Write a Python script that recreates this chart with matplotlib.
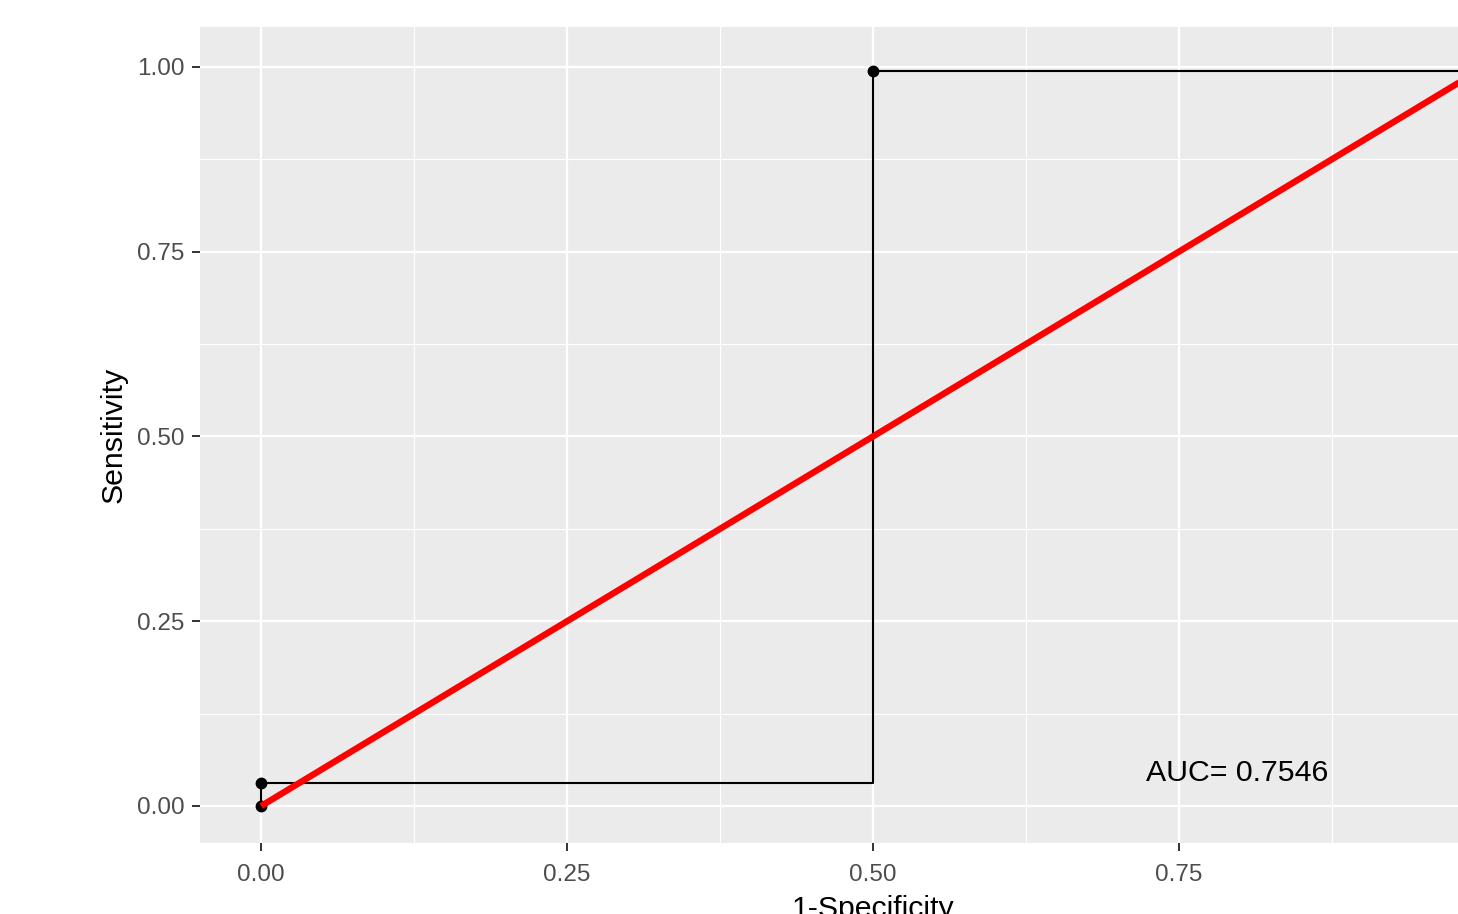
import matplotlib
matplotlib.use("Agg")
import matplotlib.pyplot as plt
import matplotlib.ticker as ticker

# ROC curve data
fpr = [0.0, 0.0, 0.5, 0.5, 1.0]
tpr = [0.0, 0.031, 0.031, 0.995, 0.995]
pt_fpr = [0.0, 0.0, 0.5, 1.0]
pt_tpr = [0.0, 0.031, 0.995, 0.995]
diag = [0.0, 1.0]
auc_label = "AUC= 0.7546"
auc_pos = (0.798, 0.045)
xticks = [0.0, 0.25, 0.5, 0.75]   # 1.00 falls outside the cropped picture
yticks = [0.0, 0.25, 0.5, 0.75, 1.0]

plt.rcParams['font.family'] = ['Liberation Sans', 'DejaVu Sans']

W, H = 1458, 914
fig = plt.figure(figsize=(W / 100, H / 100), dpi=100)
fig.patch.set_facecolor('white')

# panel extends past the right edge of the picture (cropped)
left, right_px, top_px, bottom_px = 200, 1546, 27, 843
ax = fig.add_axes([left / W, (H - bottom_px) / H,
                   (right_px - left) / W, (bottom_px - top_px) / H])
ax.set_facecolor('#EBEBEB')
for s in ax.spines.values():
    s.set_visible(False)

ax.set_xlim(-0.05, 1.05)
ax.set_ylim(-0.0501, 1.054)

ax.xaxis.set_major_locator(ticker.FixedLocator(xticks))
ax.yaxis.set_major_locator(ticker.FixedLocator(yticks))
ax.xaxis.set_minor_locator(ticker.FixedLocator([0.125, 0.375, 0.625, 0.875]))
ax.yaxis.set_minor_locator(ticker.FixedLocator([0.125, 0.375, 0.625, 0.875]))
ax.xaxis.set_major_formatter(ticker.FormatStrFormatter('%.2f'))
ax.yaxis.set_major_formatter(ticker.FormatStrFormatter('%.2f'))

ax.grid(which='major', color='white', linewidth=1.6, zorder=0)
ax.grid(which='minor', color='white', linewidth=0.8, zorder=0)
ax.set_axisbelow(True)
# grid line at x = 1.00 (tick itself is off-picture)
ax.axvline(1.0, color='white', linewidth=1.6, zorder=0)

ax.tick_params(which='major', length=6, width=1.4, color='#333333',
               labelcolor='#4D4D4D', labelsize=17.5)
ax.tick_params(axis='x', which='major', pad=9)
ax.tick_params(axis='y', which='major', pad=5)
ax.tick_params(which='minor', length=0)

# ROC step curve and points
ax.plot(fpr, tpr, color='black', linewidth=1.5, zorder=3)
ax.plot(pt_fpr, pt_tpr, 'o', color='black', markersize=7.5, zorder=4,
        clip_on=False)

# diagonal reference
ax.plot(diag, diag, color='#FF0000', linewidth=4.6, zorder=5,
        solid_capstyle='butt')

ax.text(auc_pos[0], auc_pos[1], auc_label, fontsize=21.8, color='black',
        ha='center', va='center', zorder=6)

ax.set_xlabel('1-Specificity', fontsize=21.8, color='black', labelpad=6.5)
ax.set_ylabel('Sensitivity', fontsize=21.8, color='black', labelpad=7)

fig.savefig('out.png', dpi=100)
